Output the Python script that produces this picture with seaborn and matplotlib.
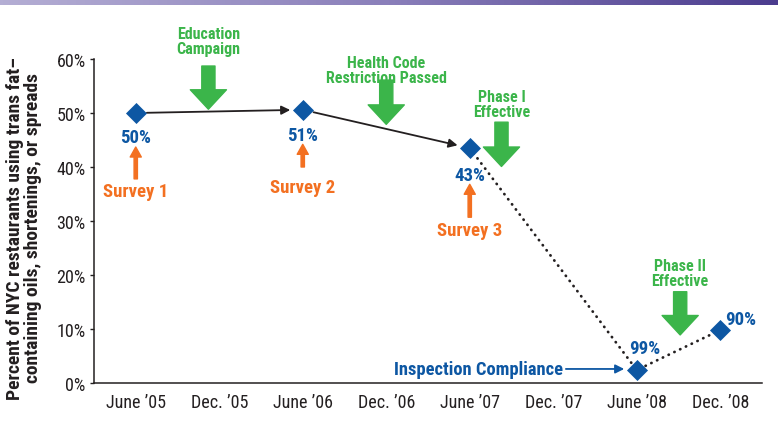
import numpy as np
import pandas as pd
import matplotlib
matplotlib.use("Agg")
import matplotlib.pyplot as plt
from matplotlib.colors import LinearSegmentedColormap
import seaborn as sns

# ---- data ----
categories = ["June \u201905", "Dec. \u201905", "June \u201906", "Dec. \u201906",
              "June \u201907", "Dec. \u201907", "June \u201908", "Dec. \u201908"]
point_idx = [0, 2, 4, 6, 7]
point_vals = [50.0, 50.6, 43.5, 2.4, 9.8]
point_labels = ["50%", "51%", "43%", "99%", "90%"]
survey_labels = ["Survey 1", "Survey 2", "Survey 3"]
events = ["Education\nCampaign", "Health Code\nRestriction Passed",
          "Phase I\nEffective", "Phase II\nEffective"]
yticks = [0, 10, 20, 30, 40, 50, 60]

BLUE = "#0d57a3"
GREEN = "#3bb54a"
ORANGE = "#f37021"
DARK = "#231f20"

sns.set_theme(style="white")
plt.rcParams["font.family"] = ["Roboto Condensed", "Archivo Narrow", "Roboto", "DejaVu Sans"]

W, H = 778, 439
fig = plt.figure(figsize=(W / 100, H / 100), dpi=100)
ax = fig.add_axes([94 / W, (H - 384) / H, (762 - 94) / W, (384 - 60) / H])

df = pd.DataFrame({"x": point_idx, "y": point_vals})

# dotted segments
ax.plot(df["x"][2:], df["y"][2:], color=DARK, lw=2.0,
        linestyle=(0, (0.1, 2.2)), dash_capstyle="round", zorder=2)
# solid arrow segments
for i in range(2):
    ax.annotate("", xy=(point_idx[i + 1], point_vals[i + 1]),
                xytext=(point_idx[i], point_vals[i]),
                arrowprops=dict(arrowstyle="-|>", color=DARK, lw=1.3,
                                mutation_scale=13, shrinkA=8, shrinkB=9),
                zorder=2)

sns.scatterplot(data=df, x="x", y="y", marker="D", s=115, color=BLUE,
                edgecolor=BLUE, linewidth=0, ax=ax, zorder=3)

ax.set_xlim(-0.5, 7.5)
ax.set_ylim(0, 60)
ax.set_xticks(range(len(categories)))
ax.set_xticklabels(categories, fontsize=13, color=DARK)
ax.set_xticks(np.arange(0.5, 8, 1), minor=True)
ax.tick_params(axis="x", which="major", length=0, pad=7)
ax.tick_params(axis="x", which="minor", length=3, direction="in", width=1, color=DARK)
ax.set_yticks(yticks)
ax.set_yticklabels([f"{v}%" for v in yticks], fontsize=13, color=DARK)
ax.tick_params(axis="y", length=3, direction="out", width=1, color=DARK, pad=3, left=True)
ax.set_xlabel("")
ax.set_ylabel("Percent of NYC restaurants using trans fat\u2013\ncontaining oils, shortenings, or spreads",
              fontsize=14, fontweight="bold", color=DARK, linespacing=1.0)
ax.yaxis.set_label_coords(-0.078, 0.48)
for s in ["top", "right"]:
    ax.spines[s].set_visible(False)
for s in ["left", "bottom"]:
    ax.spines[s].set_color(DARK)
    ax.spines[s].set_linewidth(1.1)

# point labels
lab_pos = [(0, 45.5), (2, 46.0), (4, 38.5), (6.1, 6.5), (7.25, 11.9)]
for (lx, ly), t in zip(lab_pos, point_labels):
    ax.text(lx, ly, t, color=BLUE, fontsize=13.5, fontweight="bold",
            ha="center", va="center")

# survey arrows and labels
survey_x = [0, 2, 4]
survey_tip = [43.7, 44.2, 36.8]
survey_tail = [37.8, 40.0, 30.7]
survey_txt = [35.5, 36.3, 28.4]
for sx, tip, tail, ty, t in zip(survey_x, survey_tip, survey_tail, survey_txt, survey_labels):
    ax.annotate("", xy=(sx, tip), xytext=(sx, tail),
                arrowprops=dict(arrowstyle="simple,head_width=1.0,head_length=0.9,tail_width=0.3",
                                color=ORANGE, mutation_scale=8, shrinkA=0, shrinkB=0))
    ax.text(sx, ty, t, color=ORANGE, fontsize=13.5, fontweight="bold",
            ha="center", va="center")

# event arrows (green)
ev_x = [0.87, 3.0, 4.38, 6.52]
ev_top = [58.7, 56.1, 48.3, 16.9]
ev_bot = [50.7, 47.9, 40.1, 8.9]
ev_txt = [63.3, 57.9, 51.6, 20.4]
for ex, et, eb, ty, t in zip(ev_x, ev_top, ev_bot, ev_txt, events):
    ax.annotate("", xy=(ex, eb), xytext=(ex, et),
                arrowprops=dict(arrowstyle="simple,head_width=2.6,head_length=1.4,tail_width=0.95",
                                color=GREEN, mutation_scale=10, shrinkA=0, shrinkB=0),
                annotation_clip=False)
    ax.text(ex, ty, t, color=GREEN, fontsize=11.5, fontweight="bold",
            ha="center", va="center", linespacing=1.0, clip_on=False)

# inspection compliance
ax.annotate("Inspection Compliance", xy=(5.85, point_vals[3] + 0.2), xytext=(4.1, point_vals[3] + 0.2),
            color=BLUE, fontsize=13.3, fontweight="bold", ha="center", va="center",
            arrowprops=dict(arrowstyle="-|>", color=BLUE, lw=1.3, mutation_scale=13,
                            shrinkA=0, shrinkB=0, relpos=(1, 0.5)))

# top gradient band
bax = fig.add_axes([0, 1 - 6 / H, 1, 6 / H])
cmap = LinearSegmentedColormap.from_list("band", ["#b4aed4", "#8a7fba", "#4b3c8e"])
bax.imshow(np.linspace(0, 1, 256)[None, :], aspect="auto", cmap=cmap)
bax.axis("off")

fig.savefig("out.png", dpi=100)
